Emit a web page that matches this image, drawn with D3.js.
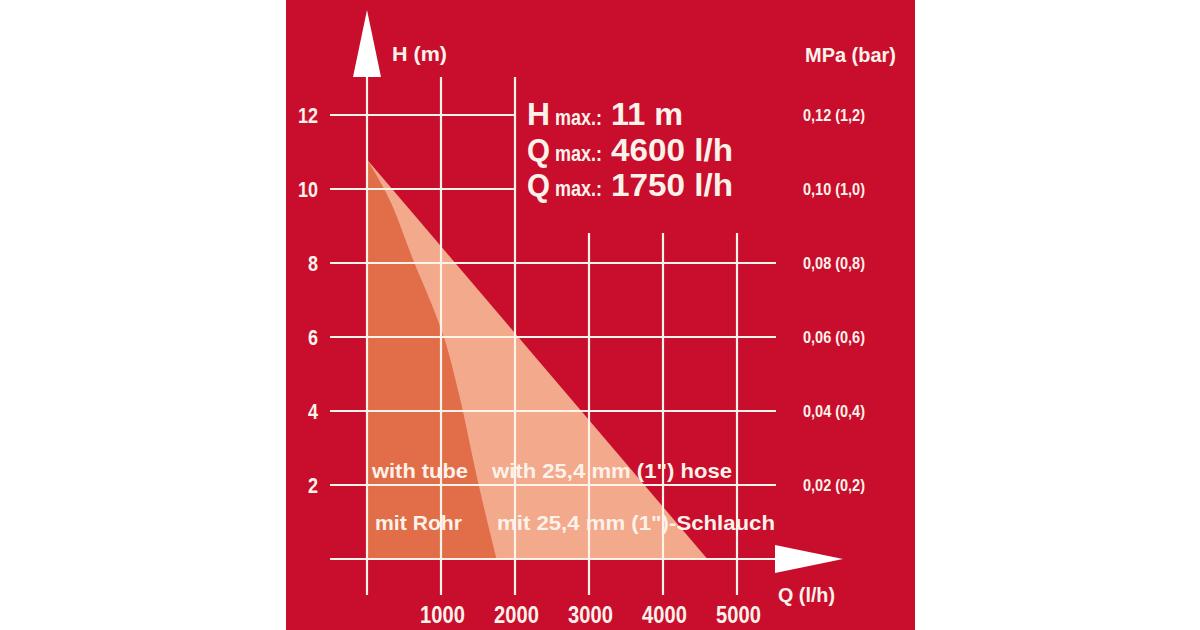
<!DOCTYPE html>
<html><head><meta charset="utf-8">
<script src="https://cdn.jsdelivr.net/npm/d3@7"></script>
<style>
html,body{margin:0;padding:0;background:#fff;}
svg text{font-family:"Liberation Sans",Arial,sans-serif;font-weight:bold;fill:#fdf2ea;}
</style></head>
<body>
<svg id="c" width="1200" height="630"></svg>
<script>
// ---- data ----
const hTicks = [2, 4, 6, 8, 10, 12];
const qTicks = [1000, 2000, 3000, 4000, 5000];
const pressureLabels = ["0,02 (0,2)", "0,04 (0,4)", "0,06 (0,6)", "0,08 (0,8)", "0,10 (1,0)", "0,12 (1,2)"];
const hGrid = [0, 2, 4, 6, 8, 10, 12];
const qGrid = [0, 1000, 2000, 3000, 4000, 5000];
// hose curve (1" hose)
const hoseQ = [0, 4600];
const hoseH = [10.8, 0];
// tube curve
const tubeQ = [0, 330, 640, 910, 1070, 1250, 1510, 1750];
const tubeH = [10.8, 9.6, 8.0, 6.7, 5.8, 4.4, 2.0, 0];
const specNames = ["H", "Q", "Q"];
const specValues = ["11 m", "4600 l/h", "1750 l/h"];
const labelsEN = ["with tube", "with 25,4 mm (1\") hose"];
const labelsDE = ["mit Rohr", "mit 25,4 mm (1\")-Schlauch"];

const svg = d3.select("#c");
const RED = "#c80d2d", GRID = "#fff4ea";

svg.append("rect").attr("x", 286).attr("y", 0).attr("width", 629).attr("height", 630).attr("fill", RED);

const x = d3.scaleLinear().domain([0, 5000]).range([367, 737]);
const y = d3.scaleLinear().domain([0, 12]).range([559, 115]);

const area = d3.area().x(d => x(d.q)).y0(y(0)).y1(d => y(d.h));
const hose = hoseQ.map((q, i) => ({q, h: hoseH[i]}));
const tube = tubeQ.map((q, i) => ({q, h: tubeH[i]}));

svg.append("path").attr("d", area(hose)).attr("fill", "#f3a98b");
svg.append("path").attr("d", area.curve(d3.curveMonotoneX)(tube)).attr("fill", "#e16d49");

// grid
svg.append("g").selectAll("line").data(hGrid).join("line")
  .attr("x1", 330).attr("x2", d => d >= 10 ? x(2000) : 776)
  .attr("y1", d => y(d)).attr("y2", d => y(d))
  .attr("stroke", GRID).attr("stroke-width", 2.2);
svg.append("g").selectAll("line").data(qGrid).join("line")
  .attr("x1", d => x(d)).attr("x2", d => x(d))
  .attr("y1", d => d <= 2000 ? 77 : 233).attr("y2", 595)
  .attr("stroke", GRID).attr("stroke-width", 2.2);

// arrows
svg.append("path").attr("d", `M${x(0)},10 L${x(0)+14},77 L${x(0)-14},77 Z`).attr("fill", "#fff");
svg.append("path").attr("d", `M775,${y(0)-14} L843,${y(0)} L775,${y(0)+14} Z`).attr("fill", "#fff");

function squeeze(sel, perChar) {
  sel.each(function () {
    const t = this.textContent;
    d3.select(this).attr("textLength", t.length * perChar).attr("lengthAdjust", "spacingAndGlyphs");
  });
}

// axes
const left = svg.append("g").attr("transform", "translate(318,0)")
  .call(d3.axisLeft(y).tickValues(hTicks).tickSize(0).tickPadding(0).tickFormat(d3.format("d")));
left.select(".domain").remove();
left.selectAll("text").style("font-size", "22px").attr("fill", null).attr("dy", "0.36em");
squeeze(left.selectAll("text"), 10);

const bottom = svg.append("g").attr("transform", "translate(1,607)")
  .call(d3.axisBottom(x).tickValues(qTicks).tickSize(0).tickPadding(0).tickFormat(d3.format("d")));
bottom.select(".domain").remove();
bottom.selectAll("text").style("font-size", "23px").attr("fill", null);
squeeze(bottom.selectAll("text"), 11.2);

const right = svg.append("g").attr("transform", "translate(803,0)")
  .call(d3.axisRight(y).tickValues(hTicks).tickSize(0).tickPadding(0).tickFormat((d, i) => pressureLabels[i]));
right.select(".domain").remove();
right.selectAll("text").style("font-size", "16px").attr("fill", null).attr("dy", "0.36em");
squeeze(right.selectAll("text"), 6.2);

svg.selectAll(".tick line").remove();
svg.selectAll("g").attr("font-family", null).attr("font-size", null);

function txt(xp, yp, size, w, s) {
  return svg.append("text").attr("x", xp).attr("y", yp).attr("font-size", size)
    .attr("textLength", w).attr("lengthAdjust", "spacingAndGlyphs").text(s);
}

// axis titles
txt(392, 61, 20, 55, "H (m)");
txt(805, 62, 20, 91, "MPa (bar)");
txt(778, 602, 21, 57, "Q (l/h)");

// spec block
const rowsY = [125, 161, 196];
specNames.forEach((n, i) => {
  txt(527, rowsY[i], 32, 23, n);
  txt(555, rowsY[i], 22, 47, "max.:");
  txt(611, rowsY[i], 32, i === 0 ? 72 : 122, specValues[i]);
});

// curve labels
txt(372, 478, 21, 96, labelsEN[0]);
txt(492, 478, 21, 240, labelsEN[1]);
txt(375, 530, 21, 87, labelsDE[0]);
txt(497, 530, 21, 278, labelsDE[1]);
</script>
</body></html>
